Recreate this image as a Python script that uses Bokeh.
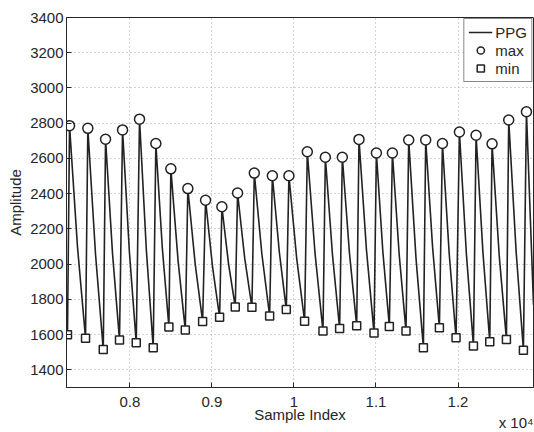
from bokeh.plotting import figure
from bokeh.models import FixedTicker, CustomJSTickFormatter, Label, Range1d
from bokeh.embed import file_html
from bokeh.resources import INLINE

# ---- data ----
max_x = [7265, 7488, 7704, 7911, 8118, 8317, 8500, 8707, 8923, 9122, 9313, 9517, 9737, 9939,
         10163, 10383, 10590, 10793, 11005, 11200, 11399, 11606, 11810, 12017, 12220, 12415, 12618, 12834]
max_y = [2786, 2771, 2709, 2762, 2823, 2685, 2541, 2429, 2363, 2326, 2404, 2517, 2502, 2502,
         2638, 2607, 2607, 2708, 2631, 2631, 2705, 2705, 2685, 2750, 2732, 2683, 2818, 2865]
min_x = [7240, 7460, 7676, 7874, 8078, 8285, 8476, 8676, 8887, 9094, 9285, 9488, 9704, 9907,
         10130, 10354, 10557, 10765, 10976, 11163, 11366, 11578, 11773, 11976, 12188, 12387, 12590, 12797]
min_y = [1599, 1579, 1515, 1570, 1554, 1525, 1644, 1626, 1675, 1699, 1757, 1755, 1706, 1742,
         1676, 1620, 1635, 1650, 1610, 1646, 1620, 1526, 1639, 1582, 1536, 1560, 1573, 1512]
# points on the falling edge of each pulse (between a max and the next min)
shoulder_x = [7362, 7582, 7789, 7994, 8201, 8396, 8588, 8797, 9008, 9203, 9400, 9610, 9822, 10034,
              10258, 10470, 10677, 10884, 11084, 11283, 11488, 11690, 11893, 12102, 12304, 12502, 12708]
shoulder_y = [2098, 2055, 2060, 2073, 2083, 2092, 2019, 1999, 1985, 2002, 2034, 2055, 2069, 2031,
              2058, 2053, 2062, 2082, 2070, 2055, 2033, 2097, 2056, 2058, 2064, 2050, 2074]
tail_x = [12920]
tail_y = [1770]

x_ticks = [8000, 9000, 10000, 11000, 12000]
y_ticks = [1400, 1600, 1800, 2000, 2200, 2400, 2600, 2800, 3000, 3200, 3400]

# assemble PPG trace
line_x, line_y = [], []
for i in range(len(min_x)):
    line_x += [min_x[i], max_x[i]]
    line_y += [min_y[i], max_y[i]]
    if i < len(shoulder_x):
        line_x.append(shoulder_x[i])
        line_y.append(shoulder_y[i])
line_x += tail_x
line_y += tail_y

FONT = "Liberation Sans"
TXT = "#262626"
X0, X1, Y0, Y1 = 7228, 12920, 1300, 3400

p = figure(width=534, height=432,
           x_range=Range1d(X0, X1), y_range=Range1d(Y0, Y1),
           output_backend="svg", toolbar_location=None,
           min_border_left=66, min_border_right=1, min_border_top=13, min_border_bottom=45,
           x_axis_label="Sample Index", y_axis_label="Amplitude")
p.background_fill_color = "white"
p.border_fill_color = "white"
p.outline_line_color = TXT
p.outline_line_width = 1

bottom_ax = p.below[0]
left_ax = p.left[0]

bottom_ax.ticker = FixedTicker(ticks=x_ticks)
left_ax.ticker = FixedTicker(ticks=y_ticks)
bottom_ax.formatter = CustomJSTickFormatter(code="return String(Math.round(tick/1000)/10);")

for ax in [bottom_ax, left_ax]:
    ax.axis_line_color = TXT
    ax.axis_line_width = 1
    ax.major_tick_in = 5
    ax.major_tick_out = 0
    ax.minor_tick_line_color = None
    ax.major_tick_line_color = TXT
    ax.major_label_text_font = FONT
    ax.major_label_text_color = TXT
    ax.major_label_text_font_size = "15px"
    ax.axis_label_text_font = FONT
    ax.axis_label_text_font_style = "normal"
    ax.axis_label_text_color = TXT
    ax.axis_label_text_font_size = "15px"
bottom_ax.major_label_standoff = 9
bottom_ax.axis_label_standoff = -4
left_ax.major_label_standoff = 3
left_ax.axis_label_standoff = 3

p.grid.grid_line_color = "#a8a8a8"
p.grid.grid_line_dash = "1 3"
p.grid.grid_line_width = 1

p.line(line_x, line_y, line_color="#222222", line_width=1.6, legend_label="PPG")
p.scatter(max_x, max_y, marker="circle", size=10, fill_color="white", line_color="#222222",
          line_width=1.5, legend_label="max")
p.scatter(min_x, min_y, marker="square", size=8, fill_color="white", line_color="#222222",
          line_width=1.5, legend_label="min")

p.legend.location = "top_right"
p.legend.margin = 1
p.legend.padding = 4
p.legend.spacing = 0
p.legend.label_height = 18
p.legend.glyph_height = 18
p.legend.glyph_width = 24
p.legend.label_standoff = 3
p.legend.label_text_font = FONT
p.legend.label_text_font_size = "15px"
p.legend.label_text_color = TXT
p.legend.border_line_color = "#111111"
p.legend.border_line_width = 1
p.legend.background_fill_color = "white"
p.legend.background_fill_alpha = 1

# "x 10^4" exponent note at lower right of the frame.  The label is hosted in a side
# panel (so it is not clipped to the frame) but positioned from the frame corner.
p.add_layout(Label(x=X1, y=Y0, text="x 10\u2074", text_font=FONT, text_font_size="15px",
                   text_color=TXT, text_align="right", text_baseline="alphabetic",
                   x_offset=0, y_offset=-35), "above")

open("out.html", "w").write(file_html(p, INLINE))
